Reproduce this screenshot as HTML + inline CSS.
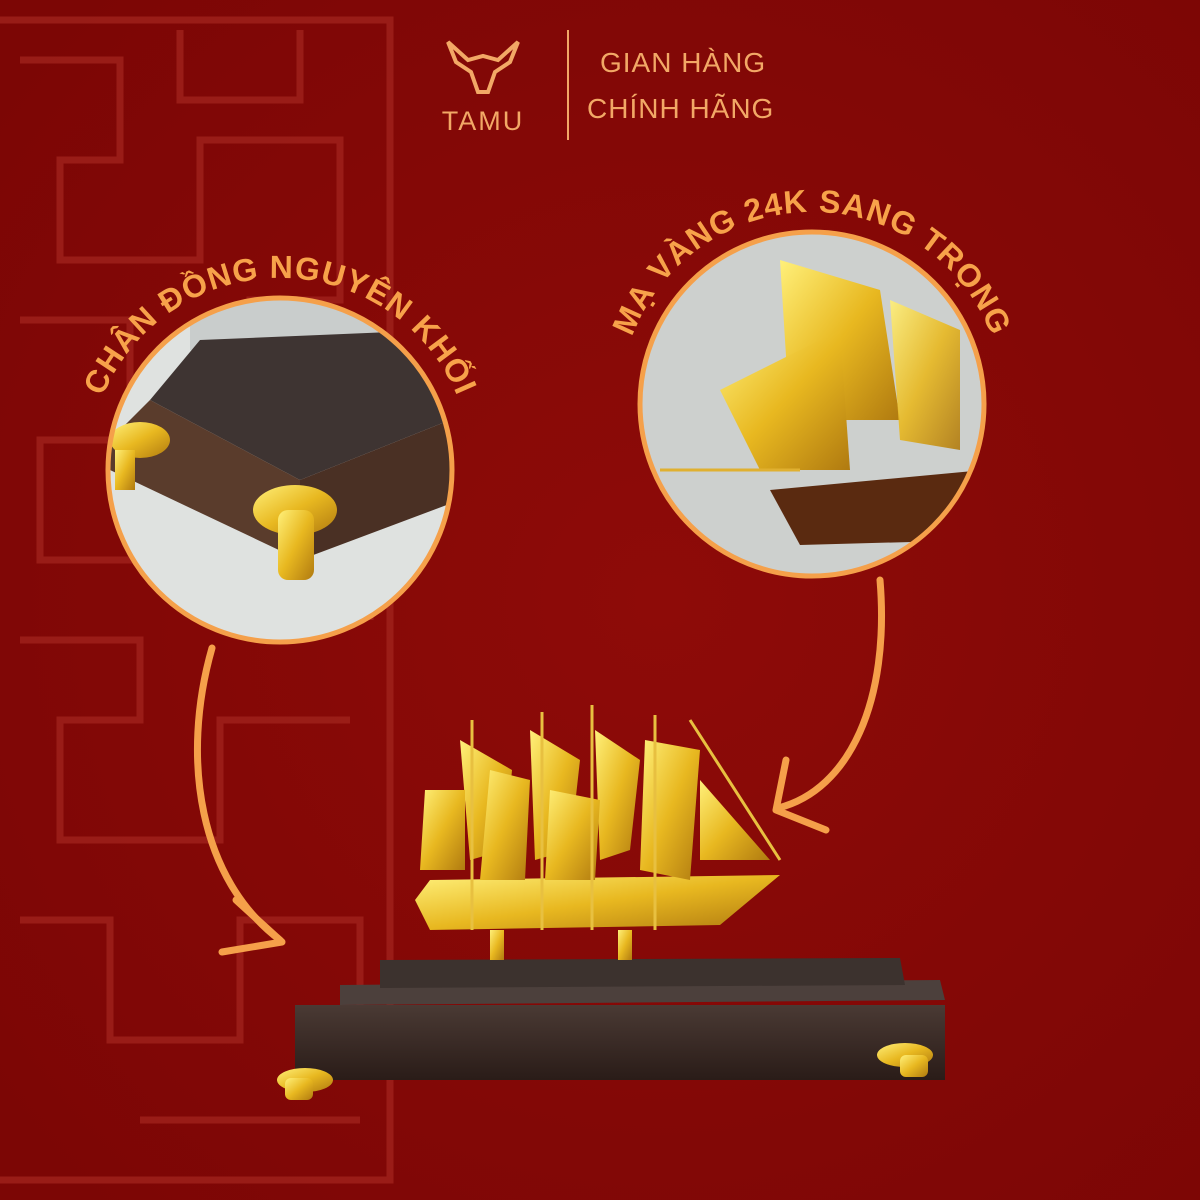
<!DOCTYPE html>
<html><head><meta charset="utf-8"><style>
html,body{margin:0;padding:0;width:1200px;height:1200px;overflow:hidden;background:#860806;}
svg{display:block}
</style></head><body>
<svg width="1200" height="1200" viewBox="0 0 1200 1200" xmlns="http://www.w3.org/2000/svg">
<defs>
<radialGradient id="bg" cx="0.55" cy="0.5" r="0.7"><stop offset="0" stop-color="#8e0b08"/><stop offset="1" stop-color="#7c0605"/></radialGradient>
<linearGradient id="gold" x1="0" y1="0" x2="1" y2="1"><stop offset="0" stop-color="#fff07a"/><stop offset="0.5" stop-color="#e8b820"/><stop offset="1" stop-color="#b07a10"/></linearGradient>
<linearGradient id="wood" x1="0" y1="0" x2="0" y2="1"><stop offset="0" stop-color="#4a3a34"/><stop offset="1" stop-color="#2a1c18"/></linearGradient>
<clipPath id="c1"><circle cx="280" cy="470" r="172"/></clipPath>
<clipPath id="c2"><circle cx="812" cy="404" r="172"/></clipPath>
<path id="t1" d="M88,470 A192,192 0 0 1 472,470"/>
<path id="t2" d="M620,404 A192,192 0 0 1 1004,404"/>
</defs>
<rect width="1200" height="1200" fill="url(#bg)"/>
<g stroke="#a0221c" stroke-width="7" fill="none" opacity="0.8">
<path d="M0,20 H390 V1180 H0"/>
<path d="M20,60 H120 V160 H60 V260 H200 V140 H340 V300 H250 V420 H360 M20,320 H130 V440 H40 V560 H170"/>
<path d="M20,640 H140 V720 H60 V840 H220 V720 H350 M250,640 V560 M20,920 H110 V1040 H240 V920 H360 V1080 M140,1120 H360"/>
<path d="M180,30 V100 H300 V30 M300,460 H370 V620"/>
</g>
<g fill="#f2a866" font-family="Liberation Sans, sans-serif">
<path d="M448,42 L468,60 L483,56 L498,60 L518,42 L510,62 L495,72 L488,92 L478,92 L471,72 L456,62 Z" fill="none" stroke="#f2a866" stroke-width="4"/>
<text x="483" y="130" text-anchor="middle" font-size="27" letter-spacing="2" font-weight="500">TAMU</text>
<rect x="567" y="30" width="2" height="110"/>
<text x="600" y="72" font-size="28" letter-spacing="1">GIAN HÀNG</text>
<text x="587" y="118" font-size="28" letter-spacing="1">CHÍNH HÃNG</text>
</g>
<g clip-path="url(#c1)">
<rect x="100" y="290" width="360" height="360" fill="#dfe2e0"/>
<rect x="190" y="290" width="260" height="60" fill="#c9cdcc"/>
<path d="M150,400 L200,340 L440,330 L450,420 L300,480 Z" fill="#3e3432"/>
<path d="M110,440 L150,400 L300,480 L300,560 L110,470 Z" fill="#5a3c2c"/>
<path d="M300,480 L450,420 L460,500 L300,560 Z" fill="#4a3024"/>
<ellipse cx="295" cy="510" rx="42" ry="25" fill="url(#gold)"/>
<rect x="278" y="510" width="36" height="70" rx="10" fill="url(#gold)"/>
<ellipse cx="140" cy="440" rx="30" ry="18" fill="url(#gold)"/>
<rect x="115" y="450" width="20" height="40" fill="url(#gold)"/>
</g>
<circle cx="280" cy="470" r="172" fill="none" stroke="#f5a04a" stroke-width="5"/>
<g clip-path="url(#c2)">
<rect x="640" y="232" width="344" height="344" fill="#cdd0ce"/>
<path d="M780,260 L880,290 L900,420 L790,420 Z" fill="url(#gold)"/>
<path d="M720,390 L840,330 L850,470 L760,470 Z" fill="url(#gold)"/>
<path d="M890,300 L960,330 L960,450 L900,440 Z" fill="url(#gold)" opacity="0.9"/>
<path d="M770,490 L984,470 L984,540 L800,545 Z" fill="#5a2a10"/>
<path d="M660,470 L800,470" stroke="#e0b030" stroke-width="3"/>
</g>
<circle cx="812" cy="404" r="172" fill="none" stroke="#f5a04a" stroke-width="5"/>
<g font-family="Liberation Sans, sans-serif" font-weight="bold" font-size="32" fill="#f7a24a" letter-spacing="1">
<text><textPath href="#t1" startOffset="50%" text-anchor="middle">CHÂN ĐỒNG NGUYÊN KHỐI</textPath></text>
<text><textPath href="#t2" startOffset="50%" text-anchor="middle">MẠ VÀNG 24K SANG TRỌNG</textPath></text>
</g>
<g stroke="#f5a04a" stroke-width="7" fill="none" stroke-linecap="round" stroke-linejoin="round">
<path d="M212,648 C180,760 200,880 280,940"/>
<path d="M236,900 L282,942 L222,952"/>
<path d="M880,580 C890,700 850,790 778,808"/>
<path d="M786,760 L776,810 L826,830"/>
</g>
<path d="M340,985 L940,980 L945,1000 L340,1005 Z" fill="#4c403c"/>
<path d="M380,960 L900,958 L905,985 L380,988 Z" fill="#3c322e"/>
<rect x="295" y="1005" width="650" height="75" fill="url(#wood)"/>
<ellipse cx="305" cy="1080" rx="28" ry="12" fill="url(#gold)"/>
<rect x="285" y="1078" width="28" height="22" rx="6" fill="url(#gold)"/>
<ellipse cx="905" cy="1055" rx="28" ry="12" fill="url(#gold)"/>
<rect x="900" y="1055" width="28" height="22" rx="6" fill="url(#gold)"/>
<g fill="url(#gold)">
<rect x="490" y="930" width="14" height="30"/><rect x="618" y="930" width="14" height="30"/>
<path d="M415,900 L430,880 L780,875 L720,925 L430,930 Z"/>
<path d="M460,740 L512,770 L505,850 L470,860 Z"/>
<path d="M530,730 L580,760 L570,850 L535,860 Z"/>
<path d="M595,730 L640,760 L630,850 L600,860 Z"/>
<path d="M645,740 L700,750 L690,880 L640,870 Z"/>
<path d="M425,790 L465,790 L465,870 L420,870 Z"/>
<path d="M490,770 L530,780 L525,880 L480,880 Z"/>
<path d="M550,790 L600,800 L595,880 L545,880 Z"/>
<path d="M700,780 L770,860 L700,860 Z"/>
</g>
<g stroke="#e8c040" stroke-width="3">
<path d="M472,720 V930 M542,712 V930 M592,705 V930 M655,715 V930 M780,860 L690,720"/>
</g>
</svg>
</body></html>
